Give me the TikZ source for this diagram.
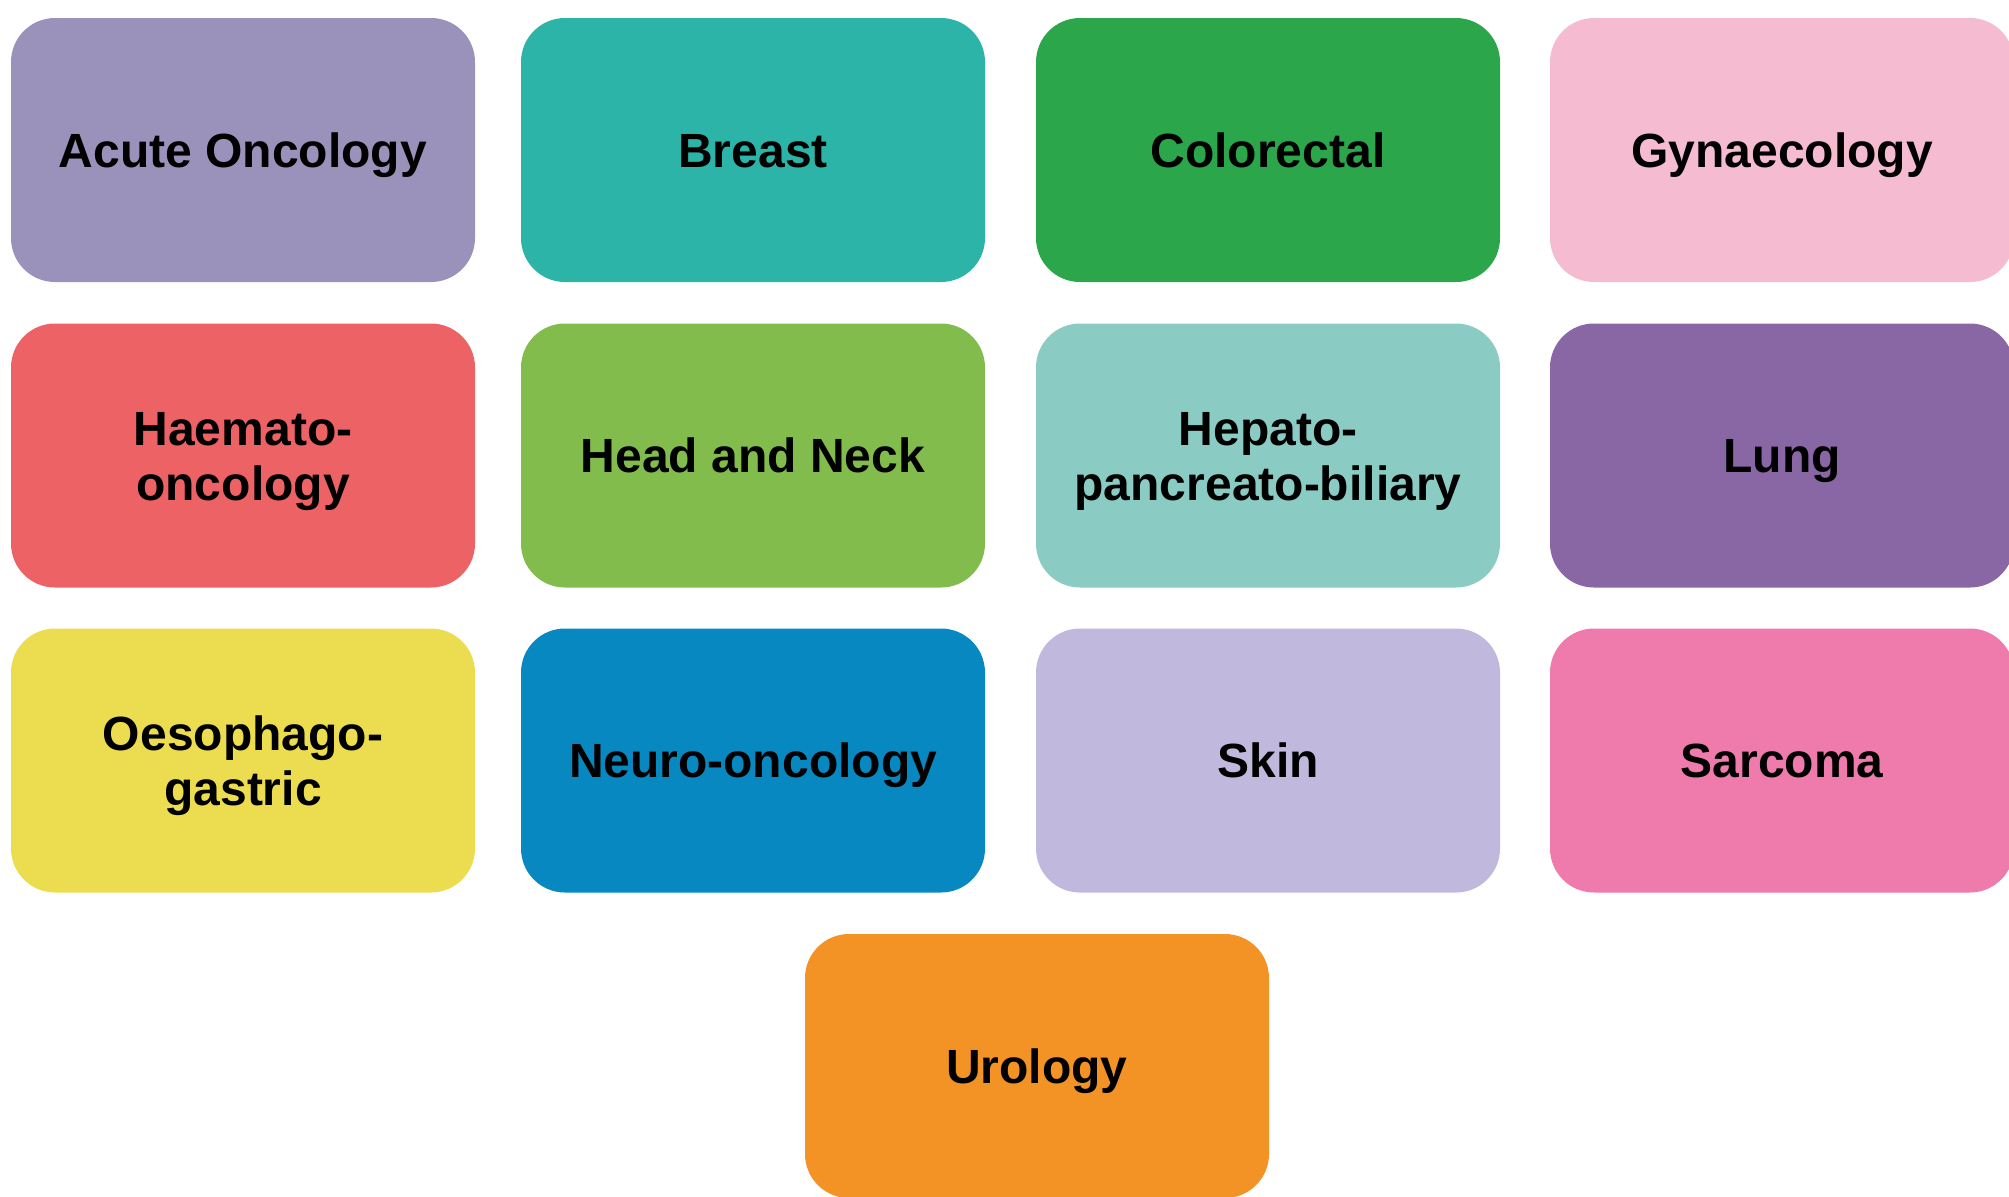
\documentclass[tikz,border=0pt]{standalone}
\usepackage{fontspec}
\setmainfont{Liberation Sans}
\usepackage{tikz}
\usetikzlibrary{positioning}
\definecolor{acuteC}{RGB}{154,146,186}
\definecolor{breastC}{RGB}{45,180,168}
\definecolor{colorectalC}{RGB}{44,166,75}
\definecolor{gynaeC}{RGB}{245,188,209}
\definecolor{haematoC}{RGB}{236,98,101}
\definecolor{headneckC}{RGB}{130,188,76}
\definecolor{hpbC}{RGB}{138,204,195}
\definecolor{lungC}{RGB}{137,102,164}
\definecolor{oesogC}{RGB}{236,221,80}
\definecolor{neuroC}{RGB}{7,136,192}
\definecolor{skinC}{RGB}{192,185,221}
\definecolor{sarcomaC}{RGB}{238,123,172}
\definecolor{urologyC}{RGB}{243,147,38}

\begin{document}
\begin{tikzpicture}[x=0.5pt, y=-0.5pt,
  site/.style={rectangle, rounded corners=22pt, minimum width=232pt,
    minimum height=132pt, inner sep=0pt, align=center,
    font=\fontsize{24}{27.6}\selectfont\bfseries,
    text height=17.2pt, text depth=0pt},
  sitetwo/.style={site, text height=44.8pt}]
  \useasboundingbox (0,0) rectangle (2009,1196);

  % Row 1
  \node[site, fill=acuteC] (acute) at (243,150) {Acute Oncology};
  \node[site, fill=breastC] (breast) at (753,150) {Breast};
  \node[site, fill=colorectalC] (colorectal) at (1268,150) {Colorectal};
  \node[site, fill=gynaeC] (gynae) at (1782,150) {Gynaecology};

  % Row 2
  \node[sitetwo, fill=haematoC] (haemato) at (243,455.5) {Haemato-\\oncology};
  \node[site, fill=headneckC] (headneck) at (753,455.5) {Head and Neck};
  \node[sitetwo, fill=hpbC] (hpb) at (1268,455.5) {Hepato-\\pancreato-biliary};
  \node[site, fill=lungC] (lung) at (1782,455.5) {Lung};

  % Row 3
  \node[sitetwo, fill=oesogC] (oesog) at (243,760.5) {Oesophago-\\gastric};
  \node[site, fill=neuroC] (neuro) at (753,760.5) {Neuro-oncology};
  \node[site, fill=skinC] (skin) at (1268,760.5) {Skin};
  \node[site, fill=sarcomaC] (sarcoma) at (1782,760.5) {Sarcoma};

  % Last one, centred under the grid
  \node[site, fill=urologyC] (urology) at (1037,1066) {Urology};
\end{tikzpicture}
\end{document}
